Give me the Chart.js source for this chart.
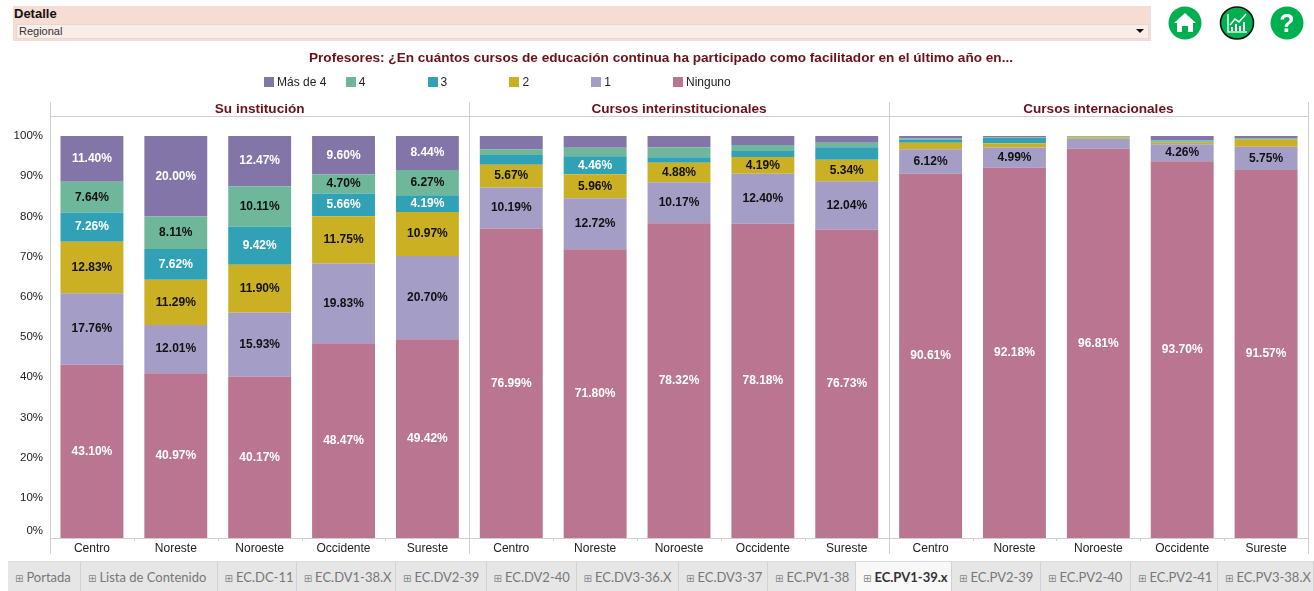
<!DOCTYPE html>
<html lang="es">
<head>
<meta charset="utf-8">
<title>Profesores: cursos de educación continua</title>
<script src="https://cdn.jsdelivr.net/npm/chart.js@4"></script>
<style>
html,body{margin:0;padding:0;background:#fff;width:1314px;height:591px;overflow:hidden;font-family:"Liberation Sans",Arial,sans-serif}
#c{position:absolute;left:0;top:0}
.abs{position:absolute}
#band{left:13px;top:6px;width:1138px;height:35px;background:#f6dcd2}
#detalle{left:14px;top:6px;font:bold 13px/15px "Liberation Sans";color:#111}
#sel{left:16px;top:24px;height:13px;background:#faece6;border:1px solid #e2d9d5;font:11px/13px "Liberation Sans";color:#333;padding-left:2px;box-sizing:content-box;width:1129px}
#arrow{left:1136px;top:29px;width:0;height:0;border-left:4px solid transparent;border-right:4px solid transparent;border-top:4px solid #111}
#title{left:0;top:50px;width:1322px;text-align:center;font:bold 13.6px/16px "Liberation Sans";color:#6b0f1a;white-space:nowrap}
.leg{position:absolute;top:76px;height:12px;font:12px/12px "Liberation Sans";color:#222;white-space:nowrap}
.leg i{position:absolute;left:0;top:1px;width:10px;height:10px}
.leg span{position:absolute;left:13px;top:0}
#tabs{left:8px;top:561px;width:1306px;height:30px;background:#e6e6e6;border-top:1px solid #dcdcdc;box-sizing:border-box}
.tab{position:absolute;top:0;height:29px;border-right:1px solid #d2d2d2;box-sizing:border-box;font:13px/30px Lato,sans-serif;color:#777;white-space:nowrap;overflow:hidden;padding-left:7px}
.tab b{font-weight:700;color:#333}
.tab.on{background:#f8f8f8}
.tab em{font:normal 10px/30px "DejaVu Sans";color:#888;margin-right:3px}
svg.icon{position:absolute;top:6px}
</style>
</head>
<body>
<canvas id="c" width="1314" height="591"></canvas>
<div class="abs" id="band"></div>
<div class="abs" id="detalle">Detalle</div>
<div class="abs" id="sel">Regional</div>
<div class="abs" id="arrow"></div>
<div class="abs" id="title">Profesores: ¿En cuántos cursos de educación continua ha participado como facilitador en el último año en...</div>
<div id="legend"></div>
<div class="abs" id="tabs"></div>

<svg class="icon" style="left:1168px" width="34" height="34" viewBox="0 0 34 34"><ellipse cx="17" cy="17" rx="16.5" ry="16.5" fill="#00b050"/><path d="M17 7 L28 17 L25 17 L25 26 L20 26 L20 20 L14 20 L14 26 L9 26 L9 17 L6 17 Z" fill="#fff"/></svg>
<svg class="icon" style="left:1219px" width="36" height="34" viewBox="0 0 36 34"><ellipse cx="18" cy="17" rx="16.5" ry="16" fill="#00b050" stroke="#111" stroke-width="1.6"/><path d="M9 8 V26 H28" fill="none" stroke="#dff3e6" stroke-width="1.6"/><path d="M11 19 L16 13 L20 16 L27 8" fill="none" stroke="#fff" stroke-width="1.6"/><path d="M13 25 V21 M17 25 V18 M21 25 V20 M25 25 V16" stroke="#fff" stroke-width="2"/></svg>
<svg class="icon" style="left:1270px" width="34" height="34" viewBox="0 0 34 34"><ellipse cx="17" cy="17" rx="16.5" ry="16.5" fill="#00b050"/><text x="17" y="26" text-anchor="middle" font-family="Liberation Sans" font-weight="bold" font-size="25" fill="#fff">?</text></svg>

<script>
// ---------- Data ----------
const panels = ["Su institución", "Cursos interinstitucionales", "Cursos internacionales"];
const regions = ["Centro", "Noreste", "Noroeste", "Occidente", "Sureste"];
const categories = [...regions, ...regions, ...regions];
const tickValues = [0,10,20,30,40,50,60,70,80,90,100];

const seriesNames = ["Ninguno", "1", "2", "3", "4", "Más de 4"];
const ninguno = [43.10,40.97,40.17,48.47,49.42, 76.99,71.80,78.32,78.18,76.73, 90.61,92.18,96.81,93.70,91.57];
const uno     = [17.76,12.01,15.93,19.83,20.70, 10.19,12.72,10.17,12.40,12.04,  6.12, 4.99, 2.50, 4.26, 5.75];
const dos     = [12.83,11.29,11.90,11.75,10.97,  5.67, 5.96, 4.88, 4.19, 5.34,  1.60, 1.00, 0.37, 0.40, 1.79];
const tres    = [ 7.26, 7.62, 9.42, 5.66, 4.19,  2.45, 4.46, 1.33, 1.50, 3.07,  0.80, 1.33, 0.08, 0.26, 0.20];
const cuatro  = [ 7.64, 8.11,10.11, 4.70, 6.27,  1.40, 2.11, 2.45, 1.50, 1.16,  0.22, 0.10, 0.16, 0.28, 0.22];
const masDe4  = [11.40,20.00,12.47, 9.60, 8.44,  3.30, 2.95, 2.85, 2.23, 1.66,  0.65, 0.40, 0.08, 1.10, 0.47];
const seriesValues = [ninguno, uno, dos, tres, cuatro, masDe4];

const seriesColors = ["#ba7591", "#a49ec7", "#ccb023", "#31a1b5", "#6fb79a", "#8475a9"];
const labelColors  = ["#ffffff", "#111111", "#111111", "#ffffff", "#111111", "#ffffff"];
const labelMinimum = 4;

const tabNames = ["Portada","Lista de Contenido","EC.DC-11","EC.DV1-38.X","EC.DV2-39","EC.DV2-40","EC.DV3-36.X","EC.DV3-37","EC.PV1-38","EC.PV1-39.x","EC.PV2-39","EC.PV2-40","EC.PV2-41","EC.PV3-38.X"];
const tabEdges = [8,81,217.6,296.7,396,486.5,576.6,679,768,856,952,1041,1131,1218,1314];
const activeTab = 9;

// ---------- Layout constants ----------
const lineColor = "#cfcfcf";
const frameTop = 102, headerLine = 116, frameBottom = 554;

// ---------- Plugins ----------
const framePlugin = {
  id: "frame",
  afterDraw(chart) {
    const {ctx, chartArea: a} = chart;
    const step = (a.right - a.left) / categories.length;
    ctx.save();
    ctx.strokeStyle = lineColor; ctx.lineWidth = 1;
    const line = (x1, y1, x2, y2) => { ctx.beginPath(); ctx.moveTo(x1, y1); ctx.lineTo(x2, y2); ctx.stroke(); };
    const px = v => Math.round(v) + 0.5;
    line(a.left, px(headerLine), a.right, px(headerLine));
    line(a.left, px(a.bottom), a.right, px(a.bottom));
    for (let i = 0; i <= panels.length; i++) {
      const edge = a.left + i * step * regions.length;
      line(px(edge), frameTop, px(edge), frameBottom);
    }
    for (let i = 1; i < categories.length; i++) {
      if (i % regions.length) { const t = a.left + i * step; line(px(t), a.bottom, px(t), a.bottom + 3); }
    }
    ctx.fillStyle = "#6b0f1a";
    ctx.font = 'bold 13.6px "Liberation Sans"';
    ctx.textAlign = "center"; ctx.textBaseline = "middle";
    panels.forEach((p, i) => {
      ctx.fillText(p, a.left + (i + 0.5) * step * regions.length, (frameTop + headerLine) / 2 + 0.5);
    });
    ctx.restore();
  }
};
const valueLabels = {
  id: "valueLabels",
  afterDatasetsDraw(chart) {
    const {ctx} = chart;
    ctx.save();
    ctx.font = 'bold 12px "Liberation Sans"';
    ctx.textAlign = "center"; ctx.textBaseline = "middle";
    chart.data.datasets.forEach((ds, s) => {
      chart.getDatasetMeta(s).data.forEach((bar, i) => {
        const v = ds.data[i];
        if (v < labelMinimum) return;
        const p = bar.getProps(["x", "y", "base"], true);
        ctx.fillStyle = labelColors[s];
        ctx.fillText(v.toFixed(2) + "%", p.x, (p.y + p.base) / 2);
      });
    });
    ctx.restore();
  }
};

// ---------- Chart ----------
const chart = new Chart(document.getElementById("c"), {
  type: "bar",
  data: {
    labels: categories,
    datasets: seriesNames.map((name, i) => ({
      label: name,
      data: seriesValues[i],
      backgroundColor: seriesColors[i],
      borderWidth: 0,
      barPercentage: 0.75,
      categoryPercentage: 1
    }))
  },
  options: {
    responsive: false,
    animation: false,
    devicePixelRatio: 1,
    layout: {padding: {top: 136, right: 6, left: 0, bottom: 0}},
    plugins: {legend: {display: false}, title: {display: false}, tooltip: {enabled: false}},
    scales: {
      x: {
        stacked: true,
        grid: {display: false, drawTicks: false},
        border: {display: false},
        ticks: {autoSkip: false, maxRotation: 0, padding: 3, color: "#222", font: {family: "Liberation Sans", size: 12}},
        afterFit(s) { s.height = 53; }
      },
      y: {
        stacked: true,
        min: 0, max: 100,
        afterBuildTicks(s) { s.ticks = tickValues.map(v => ({value: v})); },
        grid: {display: false, drawTicks: true, tickLength: 4, tickColor: lineColor},
        border: {display: false},
        ticks: {
          padding: 3, color: "#222", font: {family: "Liberation Sans", size: 11.5},
          // the lowest label sits above its tick, as in the reference
          callback: v => v === 0 ? ["0%", ""] : v + "%"
        },
        afterFit(s) { s.width = 50; }
      }
    }
  },
  plugins: [framePlugin, valueLabels]
});

// ---------- Legend (built from the chart's datasets, top of stack first) ----------
const legend = document.getElementById("legend");
chart.data.datasets.slice().reverse().forEach((ds, i) => {
  const el = document.createElement("div");
  el.className = "leg";
  el.style.left = (264 + i * 81.8) + "px";
  el.innerHTML = '<i style="background:' + ds.backgroundColor + '"></i><span>' + ds.label + '</span>';
  legend.appendChild(el);
});

// ---------- Sheet tabs ----------
const tabs = document.getElementById("tabs");
tabNames.forEach((name, i) => {
  const el = document.createElement("div");
  el.className = "tab" + (i === activeTab ? " on" : "");
  el.style.left = (tabEdges[i] - tabEdges[0]) + "px";
  el.style.width = (tabEdges[i + 1] - tabEdges[i]) + "px";
  el.innerHTML = "<em>⊞</em>" + (i === activeTab ? "<b>" + name + "</b>" : name);
  tabs.appendChild(el);
});
</script>
</body>
</html>
